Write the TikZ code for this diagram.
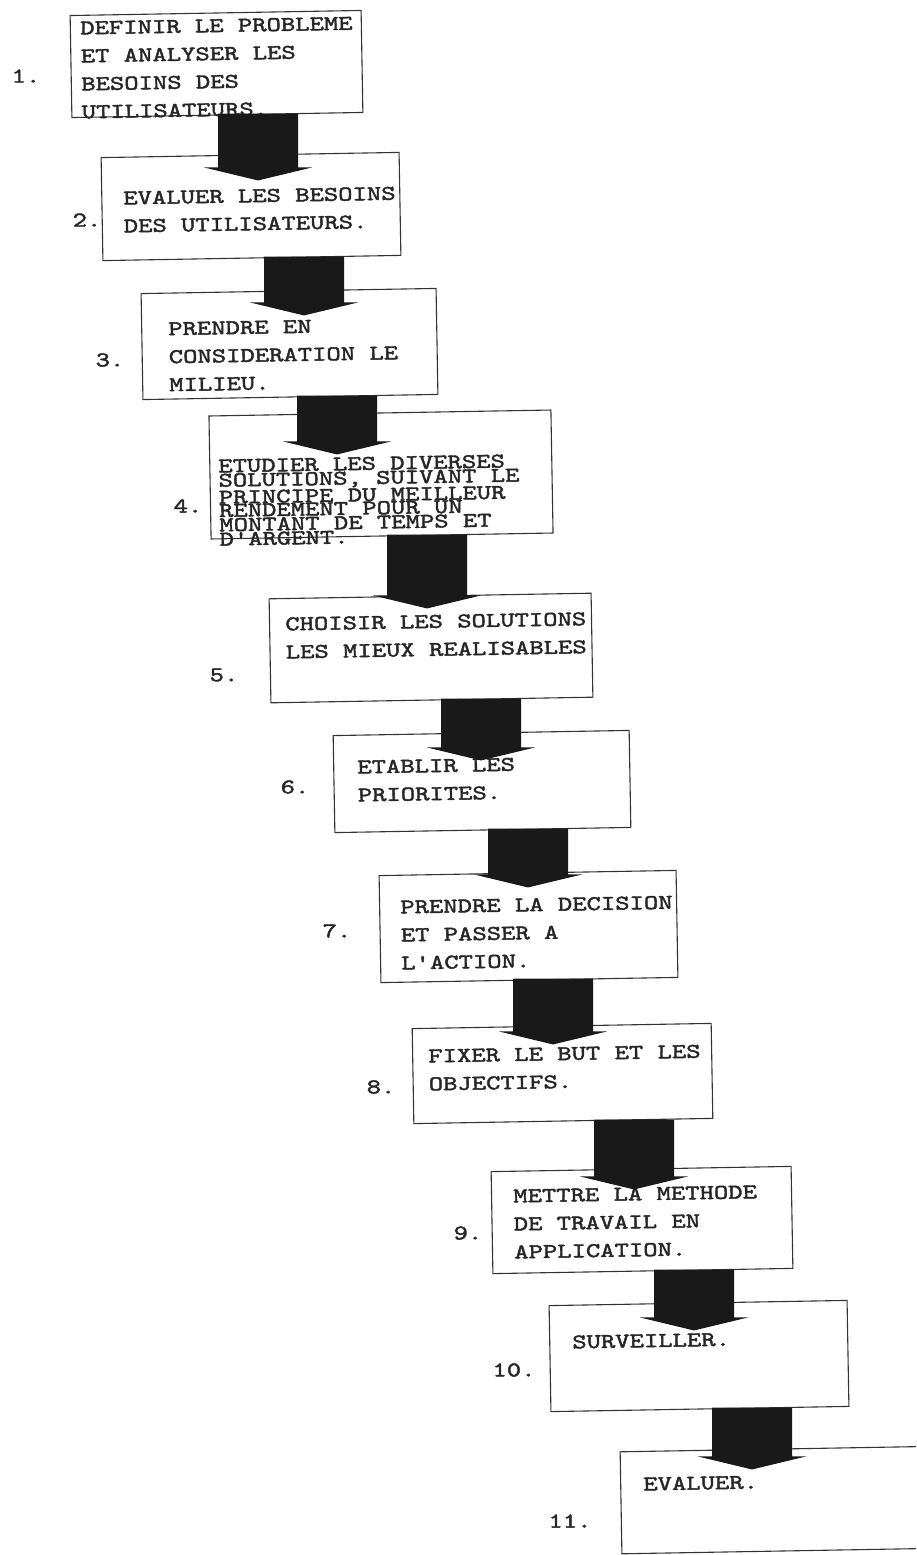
\documentclass[tikz,border=0pt]{standalone}
\usepackage{fontspec}
\newfontfamily\twfont[FakeStretch=1.3,FakeBold=2]{lmmono10-regular.otf}
\usetikzlibrary{calc}

\begin{document}
\begin{tikzpicture}[
  x=1pt, y=-1pt,
  box/.style={draw=black!80, line width=1.1pt, rotate=1, inner sep=0pt},
  txt/.style={anchor=north west, inner sep=0pt, align=left, rotate=1, text=black!85, font=\fontsize{21}{28}\selectfont\twfont},
  num/.style={inner sep=0pt, text=black!85, font=\fontsize{21}{28}\selectfont\twfont},
  flow/.style={fill=black!90},
]
\useasboundingbox (0,0) rectangle (916,1555);
\clip (0,0) rectangle (916,1555);

\node[box, minimum width=291pt, minimum height=102pt] (b1)  at (216.5,64)    {};
\node[box, minimum width=298pt, minimum height=103pt] (b2)  at (251,206.5)   {};
\node[box, minimum width=295pt, minimum height=106pt] (b3)  at (289.5,344)   {};
\node[box, minimum width=342pt, minimum height=123pt] (b4)  at (381,474.5)   {};
\node[box, minimum width=322pt, minimum height=104pt] (b5)  at (431,648)     {};
\node[box, minimum width=296pt, minimum height=97pt]  (b6)  at (482,781.5)   {};
\node[box, minimum width=297pt, minimum height=107pt] (b7)  at (528.5,926.5) {};
\node[box, minimum width=299pt, minimum height=95pt]  (b8)  at (562.5,1073.5){};
\node[box, minimum width=300pt, minimum height=102pt] (b9)  at (642,1220)    {};
\node[box, minimum width=298pt, minimum height=106pt] (b10) at (699,1356)    {};
\node[box, minimum width=320pt, minimum height=102pt] (b11) at (781,1500)    {};

\node[txt] (t1)  at (80,21.2)    {DEFINIR LE PROBLEME\\ET ANALYSER LES\\BESOINS DES\\UTILISATEURS.};
\node[txt] (t2)  at (123,191.2)  {EVALUER LES BESOINS\\DES UTILISATEURS.};
\node[txt] (t3)  at (168,322.2)  {PRENDRE EN\\CONSIDERATION LE\\MILIEU.};
\node[txt, font=\fontsize{21}{13.3}\selectfont\twfont] (t4) at (218,459.2)
  {ETUDIER LES DIVERSES\\SOLUTIONS, SUIVANT LE\\PRINCIPE DU MEILLEUR\\RENDEMENT POUR UN\\MONTANT DE TEMPS ET\\D'ARGENT.};
\node[txt] (t5)  at (285,617.2)  {CHOISIR LES SOLUTIONS\\LES MIEUX REALISABLES};
\node[txt] (t6)  at (357,760.2)  {ETABLIR LES\\PRIORITES.};
\node[txt] (t7)  at (400,900.2)  {PRENDRE LA DECISION\\ET PASSER A\\L'ACTION.};
\node[txt] (t8)  at (428,1049.2) {FIXER LE BUT ET LES\\OBJECTIFS.};
\node[txt] (t9)  at (513,1189.2) {METTRE LA METHODE\\DE TRAVAIL EN\\APPLICATION.};
\node[txt] (t10) at (572,1335.2) {SURVEILLER.};
\node[txt] (t11) at (643,1477.2) {EVALUER.};

\node[num] (n1)  at (26,76)    {1.};
\node[num] (n2)  at (87,220)   {2.};
\node[num] (n3)  at (110,360)  {3.};
\node[num] (n4)  at (188,506)  {4.};
\node[num] (n5)  at (224,675)  {5.};
\node[num] (n6)  at (295,787)  {6.};
\node[num] (n7)  at (337,931)  {7.};
\node[num] (n8)  at (381,1087) {8.};
\node[num] (n9)  at (468,1233) {9.};
\node[num] (n10) at (514,1370) {10.};
\node[num] (n11) at (570,1521) {11.};

\foreach \from/\to/\ax/\dr in {b1/b2/258/13,b2/b3/304/12,b3/b4/337/29,b4/b5/427/0,b5/b6/481/15,b6/b7/528/2,b7/b8/553/6,b8/b9/634/8,b9/b10/694/15,b10/b11/752/8}
  \fill[flow] let \p1=(\from.south), \p2=(\to.north) in
    ({\ax*1pt-40pt},{\y1+2pt}) -- ({\ax*1pt+40pt},{\y1+2pt}) -- ({\ax*1pt+40pt},{\y2-\dr*1pt})
    -- ({\ax*1pt+54pt},{\y2-\dr*1pt}) -- ({\ax*1pt},{\y2-\dr*1pt-13pt}) -- ({\ax*1pt-54pt},{\y2-\dr*1pt})
    -- ({\ax*1pt-40pt},{\y2-\dr*1pt}) -- cycle;
\end{tikzpicture}
\end{document}
